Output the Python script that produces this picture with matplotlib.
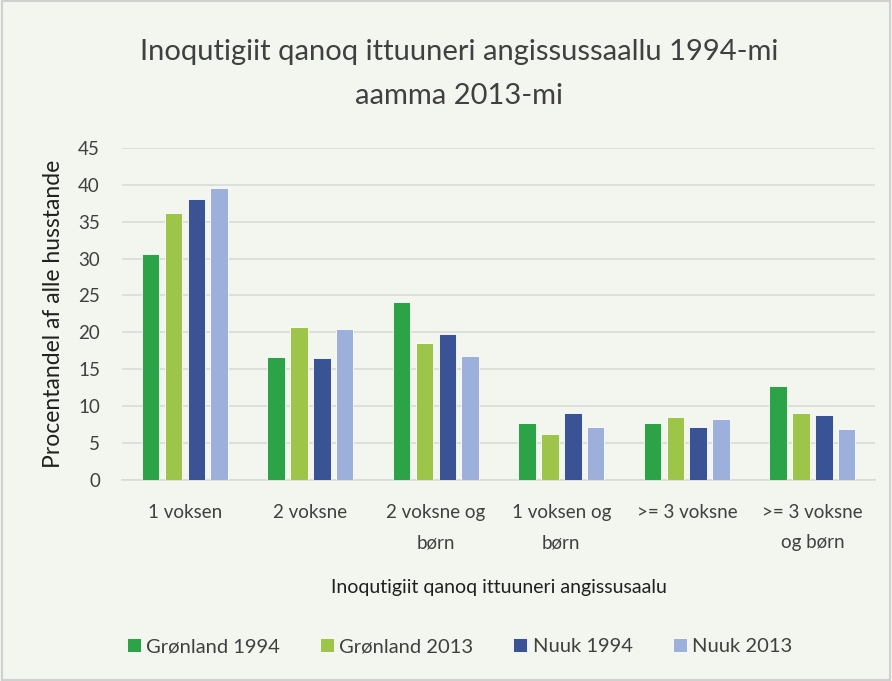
import matplotlib
matplotlib.use("Agg")
import matplotlib.pyplot as plt
import numpy as np

plt.rcParams['font.family'] = ['Lato', 'DejaVu Sans']

categories = ["1 voksen", "2 voksne", "2 voksne og\nbørn", "1 voksen og\nbørn", ">= 3 voksne", ">= 3 voksne\nog børn"]
series_names = ["Grønland 1994", "Grønland 2013", "Nuuk 1994", "Nuuk 2013"]
groenland_1994 = [30.6, 16.7, 24.1, 7.7, 7.7, 12.8]
groenland_2013 = [36.2, 20.7, 18.6, 6.3, 8.6, 9.1]
nuuk_1994 = [38.1, 16.5, 19.8, 9.1, 7.2, 8.8]
nuuk_2013 = [39.6, 20.5, 16.8, 7.2, 8.25, 6.9]
colors = ["#2CA346", "#9DC54A", "#3A5394", "#9DB0DB"]
yticks = [0, 5, 10, 15, 20, 25, 30, 35, 40, 45]

bg = "#F3F6EE"
fig = plt.figure(figsize=(8.92, 6.81), dpi=100, facecolor=bg)
ax = fig.add_axes([0.137, 0.295, 0.844, 0.488], facecolor=bg)

x = np.arange(len(categories))
width = 0.14
pitch = 0.182
data = [groenland_1994, groenland_2013, nuuk_1994, nuuk_2013]
for i, (vals, c, n) in enumerate(zip(data, colors, series_names)):
    ax.bar(x + (i - 1.5) * pitch, vals, width, color=c, label=n,
           edgecolor="white", linewidth=0.6, zorder=3)

ax.set_xlim(-0.5, len(categories) - 0.5)
ax.set_ylim(0, 45)
ax.set_yticks(yticks)
ax.yaxis.grid(True, color="#D9DBD6", linewidth=1.2, zorder=0)
ax.set_axisbelow(True)
for s in ["top", "right", "left"]:
    ax.spines[s].set_visible(False)
ax.spines["bottom"].set_color("#D9DBD6")
ax.spines["bottom"].set_linewidth(1.2)
ax.tick_params(axis="both", length=0, labelsize=13.5, colors="#404040")
ax.tick_params(axis="y", pad=16)
ax.tick_params(axis="x", pad=17)
ax.set_xticks(x)
ax.set_xticklabels(categories, linespacing=1.95)

ax.set_ylabel("Procentandel af alle husstande", fontsize=16.5, color="#202020", labelpad=10)
ax.set_xlabel("Inoqutigiit qanoq ittuuneri angissusaalu", fontsize=14, color="#202020", labelpad=20)

fig.text(0.515, 0.891, "Inoqutigiit qanoq ittuuneri angissussaallu 1994-mi\naamma 2013-mi",
         ha="center", va="center", fontsize=21, color="#404040", linespacing=1.85)

leg = fig.legend(loc="center", bbox_to_anchor=(0.515, 0.05), ncol=4, frameon=False,
                 fontsize=14.5, handlelength=0.7, handleheight=0.7, handletextpad=0.25,
                 columnspacing=2.0, labelcolor="#404040")

fig.patches.append(matplotlib.patches.Rectangle((0.002, 0.002), 0.996, 0.996, transform=fig.transFigure,
                                                fill=False, edgecolor="#D0D0D0", linewidth=1.5))
fig.savefig("out.png", dpi=100, facecolor=bg)
